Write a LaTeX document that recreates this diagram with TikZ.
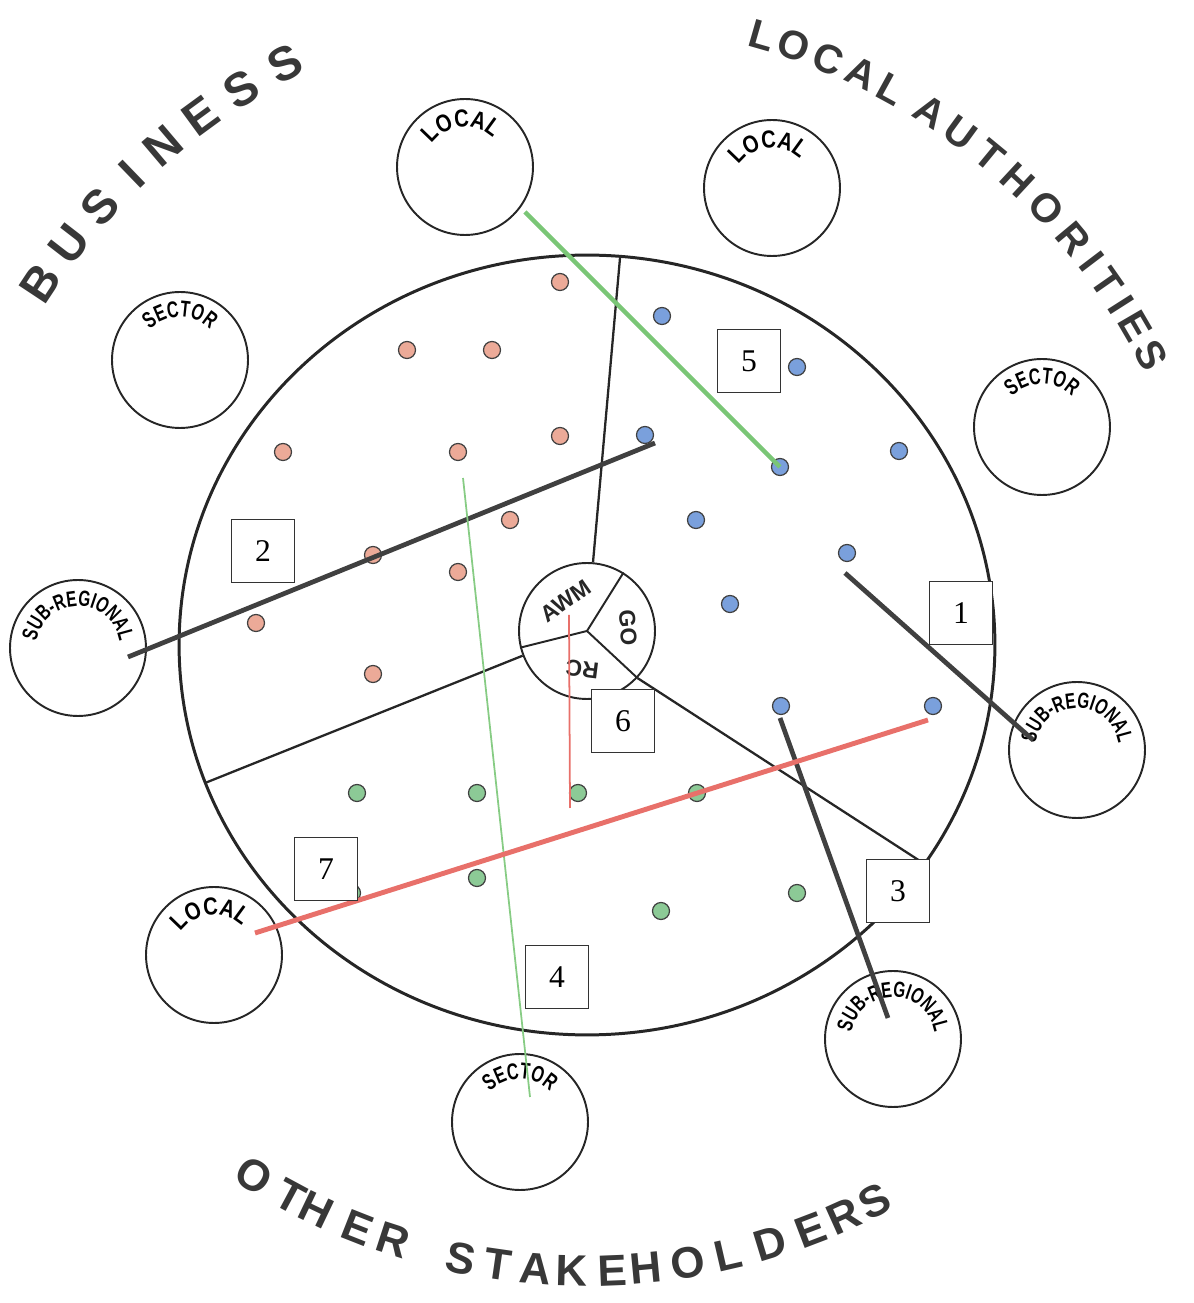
\documentclass[tikz,border=0pt]{standalone}
\usepackage{fontspec}
\setmainfont{Liberation Serif}
\newfontfamily\capfont{Liberation Sans}
\newfontfamily\narrowfont[FakeStretch=0.7]{Liberation Sans}
\newfontfamily\locfont[FakeStretch=0.82]{Liberation Sans}
\usepackage{tikz}
\usetikzlibrary{decorations.text}

\definecolor{pinkdot}{RGB}{236,170,152}
\definecolor{bluedot}{RGB}{122,160,220}
\definecolor{greendot}{RGB}{140,202,150}
\definecolor{redlink}{RGB}{232,112,106}
\definecolor{greenlink}{RGB}{122,198,118}

\newcommand{\sublab}{\narrowfont\bfseries\fontsize{12.5}{12.5}\selectfont}
\newcommand{\seclab}{\narrowfont\bfseries\fontsize{13}{13}\selectfont}
\newcommand{\loclab}{\locfont\bfseries\fontsize{14}{14}\selectfont}

\begin{document}
\begin{tikzpicture}[x=0.02cm, y=0.02cm,
  rim/.style={black!85, line width=1.7pt},
  split/.style={black!85, line width=1.3pt},
  sat/.style={circle, draw=black!85, line width=1.1pt, minimum size=2.72cm, inner sep=0pt},
  hubc/.style={circle, draw=black!85, fill=white, line width=1.1pt, minimum size=2.72cm, inner sep=0pt},
  hublab/.style={font=\capfont\bfseries\fontsize{13}{13}\selectfont, text=black!85, inner sep=0pt},
  dot/.style={circle, draw=black!75, line width=0.7pt, minimum size=0.34cm, inner sep=0pt},
  numbox/.style={draw=black!80, fill=white, line width=0.8pt, minimum size=1.26cm,
                 inner sep=0pt, font=\fontsize{18}{18}\selectfont},
  link/.style={black!75, line width=2.7pt},
  big/.style={font=\capfont\bfseries\fontsize{25}{25}\selectfont, text=black!78, inner sep=0pt},
  arclab/.style 2 args={decorate, decoration={text along path, text align=center, text={|#1|#2}}}]
\useasboundingbox (0,0) rectangle (1194,1303);

% outer ring
\coordinate (ctr) at (587,658);
\draw[rim] (ctr) ellipse [x radius=8.16cm, y radius=7.8cm];

% satellite circles
\node[sat] (bizloc) at (465,1136) {};
\node[sat] (lalocal) at (772,1115) {};
\node[sat] (bizsec) at (180,943) {};
\node[sat] (lasec) at (1042,876) {};
\node[sat] (bizsub) at (78,655) {};
\node[sat] (lasub) at (1077,553) {};
\node[sat] (ossub) at (893,264) {};
\node[sat] (osloc) at (214,348) {};
\node[sat] (ossec) at (520,181) {};

\path[arclab={\loclab}{LOCAL}] ([shift={(180:40)}]bizloc.center) arc[start angle=180, end angle=10, radius=0.8cm];
\path[arclab={\loclab}{LOCAL}] ([shift={(180:40)}]lalocal.center) arc[start angle=180, end angle=10, radius=0.8cm];
\path[arclab={\loclab}{LOCAL}] ([shift={(180:40)}]osloc.center) arc[start angle=180, end angle=10, radius=0.8cm];
\path[arclab={\seclab}{SECTOR}] ([shift={(170:43)}]bizsec.center) arc[start angle=170, end angle=10, radius=0.86cm];
\path[arclab={\seclab}{SECTOR}] ([shift={(170:43)}]lasec.center) arc[start angle=170, end angle=10, radius=0.86cm];
\path[arclab={\seclab}{SECTOR}] ([shift={(170:43)}]ossec.center) arc[start angle=170, end angle=10, radius=0.86cm];
\path[arclab={\sublab}{SUB-REGIONAL}] ([shift={(179:42)}]bizsub.center) arc[start angle=179, end angle=1, radius=0.84cm];
\path[arclab={\sublab}{SUB-REGIONAL}] ([shift={(179:42)}]lasub.center) arc[start angle=179, end angle=1, radius=0.84cm];
\path[arclab={\sublab}{SUB-REGIONAL}] ([shift={(179:42)}]ossub.center) arc[start angle=179, end angle=1, radius=0.84cm];

% hub and sector lines
\node[hubc] (hub) at (587,672) {};
\coordinate (rimtop) at (620,1045);
\coordinate (rimleft) at (205,520);
\coordinate (rimright) at (920,442);
\draw[split] (hub.85) -- (rimtop);
\draw[split] (hub.201) -- (rimleft);
\draw[split] (hub.-43) -- (rimright);
\draw[split, line width=1.1pt] (hub.center) -- (hub.58) (hub.center) -- (hub.194) (hub.center) -- (hub.-43);
\node[hublab, rotate=35] (awm) at ([shift={(125:37)}]hub.center) {AWM};
\node[hublab, rotate=-86] (go) at ([shift={(4:41)}]hub.center) {GO};
\node[hublab, rotate=173] (rc) at ([shift={(-97:39)}]hub.center) {RC};

% members
\foreach \x/\y [count=\i] in {560/1021, 407/953, 492/953, 283/851, 458/851, 560/867,
    510/783, 373/748, 458/731, 256/680, 373/629}
  \node[dot, fill=pinkdot] (p\i) at (\x,\y) {};
\foreach \x/\y [count=\i] in {662/987, 797/936, 645/868, 780/836, 899/852, 696/783,
    847/750, 730/699, 781/597, 933/597}
  \node[dot, fill=bluedot] (b\i) at (\x,\y) {};
\foreach \x/\y [count=\i] in {357/510, 477/510, 578/510, 697/510, 352/410, 477/425,
    661/392, 797/410}
  \node[dot, fill=greendot] (g\i) at (\x,\y) {};

% links
\coordinate (c1a) at (845,730);
\coordinate (c1b) at (1033,563);
\coordinate (c2a) at (128,646);
\coordinate (c2b) at (655,860);
\coordinate (c3a) at (780,585);
\coordinate (c3b) at (888,285);
\coordinate (c4a) at (463,825);
\coordinate (c4b) at (530,206);
\coordinate (c5a) at (525,1091);
\coordinate (c6a) at (569,688);
\coordinate (c6b) at (570,495);
\coordinate (c7a) at (255,370);
\coordinate (c7b) at (928,583);
\draw[link] (c1a) -- (c1b);
\draw[link] (c2a) -- (c2b);
\draw[link] (c3a) -- (c3b);
\draw[greenlink!90, line width=1pt] (c4a) -- (c4b);
\draw[greenlink, line width=2.5pt] (c5a) -- (b4.center);
\draw[redlink, line width=1pt] (c6a) -- (c6b);
\draw[redlink, line width=2.8pt] (c7a) -- (c7b);

% numbered boxes
\node[numbox] (n1) at (961,690) {1};
\node[numbox] (n2) at (263,752) {2};
\node[numbox] (n3) at (898,412) {3};
\node[numbox] (n4) at (557,326) {4};
\node[numbox] (n5) at (749,942) {5};
\node[numbox] (n6) at (623,582) {6};
\node[numbox] (n7) at (326,434) {7};

% group names round the ring
\foreach \a/\ch [count=\i] in {146.5/B, 142.3/U, 138.0/S, 134.0/I, 130.3/N, 126.2/E, 121.9/S, 117.5/S}
  \node[big, font=\capfont\bfseries\fontsize{27}{27}\selectfont, rotate=\a-90] (biz\i) at ([shift={(\a:655)}]ctr) {\ch};
\foreach \a/\ch [count=\i] in {74.0/L, 71.0/O, 67.6/C, 64.3/A, 61.3/L, 57.2/A, 53.9/U, 50.5/T,
    47.2/H, 43.5/O, 39.9/R, 37.2/I, 34.9/T, 32.5/I, 30.2/E, 27.2/S}
  \node[big, font=\capfont\bfseries\fontsize{23}{23}\selectfont, rotate=\a-90] (la\i) at ([shift={(\a:634)}]ctr) {\ch};
\foreach \a/\ch [count=\i] in {237.9/O, 241.7/T, 244.4/H, 248.5/E, 252.0/R, 258.4/S, 261.8/T,
    265.3/A, 268.6/K, 272.3/E, 275.4/H, 279.3/O, 283.0/L, 287.0/D, 290.9/E, 294.2/R, 297.3/S}
  \node[big, rotate=\a+90] (os\i) at ([shift={(\a:626)}]ctr) {\ch};
\end{tikzpicture}
\end{document}
